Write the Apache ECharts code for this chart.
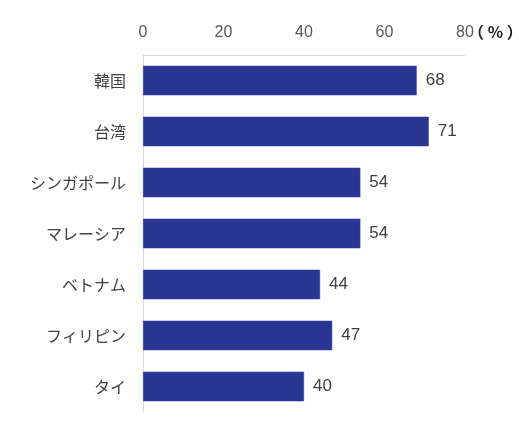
<!DOCTYPE html>
<html>
<head>
<meta charset="utf-8">
<script src="https://cdn.jsdelivr.net/npm/echarts@6/dist/echarts.min.js"></script>
<style>
  html, body { margin: 0; padding: 0; background: #fff; }
  #chart { width: 519px; height: 432px; }
</style>
</head>
<body>
<div id="chart"></div>
<script>
// chart data
const categories = ['韓国', '台湾', 'シンガポール', 'マレーシア', 'ベトナム', 'フィリピン', 'タイ'];
const values = [68, 71, 54, 54, 44, 47, 40];
const axisTicks = [0, 20, 40, 60, 80];
const unitLabel = '（ % ）';

const chart = echarts.init(document.getElementById('chart'));
const jpFont = '"Noto Sans CJK JP", sans-serif';
const numFont = '"Liberation Sans", Arial, sans-serif';

chart.setOption({
  animation: false,
  grid: { left: 143, right: 54, top: 55, bottom: 20, outerBoundsMode: 'none' },
  // unit label next to the last tick
  graphic: [{
    type: 'text',
    left: 468,
    top: 24,
    style: {
      text: unitLabel,
      fill: '#222',
      fontSize: 16,
      fontWeight: 'bold',
      fontFamily: jpFont
    }
  }],
  xAxis: {
    type: 'value',
    position: 'top',
    min: axisTicks[0],
    max: axisTicks[axisTicks.length - 1],
    interval: 20,
    axisLine: { show: true, lineStyle: { color: '#d9d9d9', width: 1 } },
    axisTick: { show: false },
    splitLine: { show: false },
    axisLabel: { color: '#595959', fontSize: 16, fontFamily: numFont, margin: 14 }
  },
  yAxis: {
    type: 'category',
    inverse: true,
    data: categories,
    axisLine: { show: true, lineStyle: { color: '#d9d9d9', width: 1 } },
    axisTick: { show: false },
    axisLabel: { color: '#404040', fontSize: 16, fontFamily: jpFont, margin: 17 }
  },
  series: [{
    type: 'bar',
    data: values,
    barWidth: '58%',
    itemStyle: { color: '#283593', borderColor: '#3a46a8', borderWidth: 0.5 },
    label: {
      show: true,
      position: 'right',
      distance: 9,
      color: '#404040',
      fontSize: 17,
      fontFamily: numFont
    }
  }]
});
</script>
</body>
</html>
